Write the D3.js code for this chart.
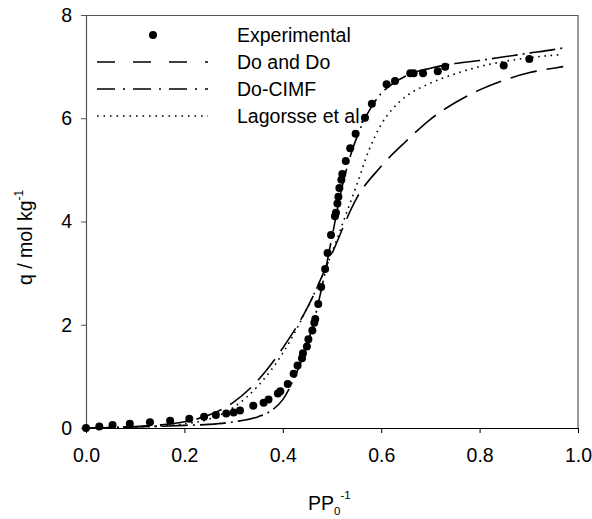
<!DOCTYPE html>
<meta charset="utf-8">
<script src="https://d3js.org/d3.v7.min.js"></script>
<style>
  body { margin: 0; background: #fff; }
  text { font-family: "Liberation Sans", Arial, sans-serif; fill: #000; }
</style>
<div id="my_dataviz"></div>
<script>

// experimental points
var expX = [0, 0.027, 0.054, 0.089, 0.130, 0.171, 0.210, 0.240, 0.264, 0.285, 0.300, 0.313,
  0.340, 0.361, 0.371, 0.390, 0.395, 0.410, 0.422, 0.430, 0.439, 0.441, 0.449, 0.452,
  0.460, 0.464, 0.466, 0.472, 0.478, 0.486, 0.491, 0.498, 0.506, 0.508, 0.511, 0.513,
  0.515, 0.519, 0.521, 0.528, 0.537, 0.548, 0.567, 0.581, 0.611, 0.628, 0.659, 0.666,
  0.685, 0.715, 0.730, 0.849, 0.901];
var expQ = [0, 0.03, 0.06, 0.08, 0.11, 0.14, 0.18, 0.22, 0.25, 0.28, 0.30, 0.34,
  0.43, 0.49, 0.55, 0.67, 0.71, 0.85, 1.05, 1.21, 1.35, 1.45, 1.58, 1.72,
  1.89, 2.04, 2.11, 2.40, 2.73, 3.08, 3.39, 3.74, 4.10, 4.17, 4.35, 4.48,
  4.65, 4.81, 4.92, 5.17, 5.42, 5.70, 6.01, 6.28, 6.66, 6.72, 6.87, 6.87,
  6.87, 6.91, 7.00, 7.02, 7.15];

// Do and Do model
var doDoX = [0, 0.05, 0.1, 0.15, 0.2, 0.25, 0.3, 0.35, 0.4, 0.45, 0.5, 0.55, 0.6, 0.65, 0.7, 0.75, 0.8, 0.85, 0.9, 0.95, 0.97];
var doDoQ = [0, 0.01, 0.03, 0.06, 0.12, 0.25, 0.5, 0.93, 1.55, 2.33, 3.38, 4.45, 5.07, 5.55, 5.98, 6.3, 6.55, 6.74, 6.88, 6.97, 7.0];

// Do-CIMF model
var cimfX = [0, 0.1, 0.2, 0.25, 0.3, 0.35, 0.38, 0.4, 0.42, 0.44, 0.46, 0.48, 0.5, 0.52, 0.54, 0.56, 0.58, 0.6, 0.625, 0.65, 0.7, 0.75, 0.8, 0.85, 0.9, 0.95, 0.975];
var cimfQ = [0, 0.02, 0.05, 0.07, 0.12, 0.22, 0.36, 0.55, 0.9, 1.35, 1.95, 2.75, 3.7, 4.65, 5.35, 5.85, 6.22, 6.48, 6.68, 6.82, 6.97, 7.06, 7.12, 7.19, 7.26, 7.33, 7.37];

// Lagorsse et al. model
var lagX = [0, 0.1, 0.2, 0.25, 0.3, 0.35, 0.4, 0.45, 0.5, 0.525, 0.55, 0.575, 0.6, 0.625, 0.65, 0.7, 0.75, 0.8, 0.85, 0.9, 0.95, 0.965];
var lagQ = [0, 0.02, 0.08, 0.17, 0.4, 0.82, 1.45, 2.33, 3.4, 4.05, 4.7, 5.38, 5.88, 6.2, 6.42, 6.68, 6.86, 7.0, 7.1, 7.17, 7.22, 7.23];

var xTicks = [0, 0.2, 0.4, 0.6, 0.8, 1.0];
var yTicks = [0, 2, 4, 6, 8];
var legendNames = ["Experimental", "Do and Do", "Do-CIMF", "Lagorsse et al."];

var margin = {top: 15, right: 14, bottom: 91, left: 86},
    width = 592 - margin.left - margin.right,
    height = 519 - margin.top - margin.bottom;

var svg = d3.select("#my_dataviz")
  .append("svg")
    .attr("width", 592)
    .attr("height", 519)
  .append("g")
    .attr("transform", "translate(" + margin.left + "," + margin.top + ")");

var x = d3.scaleLinear().domain([0, 1]).range([0, width]);
var y = d3.scaleLinear().domain([0, 8]).range([height, 0]);

// frame (top and right)
svg.append("path")
  .attr("d", "M0,0.5H" + width + "V" + height)
  .attr("fill", "none")
  .attr("stroke", "#555")
  .attr("stroke-width", 1.2);

// X axis
var xAxis = svg.append("g")
  .attr("transform", "translate(0," + height + ")")
  .call(d3.axisBottom(x).tickValues(xTicks).tickFormat(d3.format(".1f")).tickSize(5).tickSizeOuter(0));
xAxis.select(".domain").attr("stroke", "#000").attr("stroke-width", 1.2);
xAxis.selectAll(".tick line").attr("stroke", "#000");
xAxis.selectAll("text").attr("font-size", 19.5).attr("dy", 0).attr("y", 34).style("font-family", "Liberation Sans, Arial, sans-serif");

// Y axis
var yAxis = svg.append("g")
  .call(d3.axisLeft(y).tickValues(yTicks).tickFormat(d3.format("d")).tickSize(5).tickSizeOuter(0));
yAxis.select(".domain").attr("stroke", "#555").attr("stroke-width", 1.2);
yAxis.selectAll(".tick line").attr("stroke", "#555");
yAxis.selectAll("text").attr("font-size", 19.5).attr("x", -14).style("font-family", "Liberation Sans, Arial, sans-serif");

// axis titles
var xt = svg.append("text")
  .attr("x", 222)
  .attr("y", 495)
  .attr("font-size", 19.5);
xt.append("tspan").text("PP");
xt.append("tspan").attr("font-size", 11.5).attr("dy", 5).text("0");
xt.append("tspan").attr("font-size", 11.5).attr("dy", -16).text("-1");

var yt = svg.append("text")
  .attr("transform", "translate(" + (-54) + "," + 270 + ") rotate(-90)")
  .attr("font-size", 19.5);
yt.append("tspan").text("q / mol kg");
yt.append("tspan").attr("font-size", 12).attr("dy", -9).text("-1");

function pts(xs, qs) { return xs.map(function(v, i) { return [v, qs[i]]; }); }

var line = d3.line()
  .x(function(d) { return x(d[0]); })
  .y(function(d) { return y(d[1]); })
  .curve(d3.curveMonotoneX);

svg.append("path")
  .datum(pts(doDoX, doDoQ))
  .attr("fill", "none").attr("stroke", "#000").attr("stroke-width", 1.6)
  .attr("stroke-dasharray", "27,10")
  .attr("d", line);

svg.append("path")
  .datum(pts(cimfX, cimfQ))
  .attr("fill", "none").attr("stroke", "#000").attr("stroke-width", 1.6)
  .attr("stroke-dasharray", "26,5,2,5")
  .attr("d", line);

svg.append("path")
  .datum(pts(lagX, lagQ))
  .attr("fill", "none").attr("stroke", "#000").attr("stroke-width", 1.6)
  .attr("stroke-dasharray", "1.6,4.6")
  .attr("d", line);

svg.selectAll(".dot")
  .data(pts(expX, expQ))
  .enter().append("circle")
    .attr("cx", function(d) { return x(d[0]); })
    .attr("cy", function(d) { return y(d[1]); })
    .attr("r", 4)
    .attr("fill", "#000");

// legend
var legend = svg.append("g")
  .attr("transform", "translate(" + (97 - margin.left) + "," + (35 - margin.top) + ")");

var rows = legend.selectAll("g")
  .data(legendNames)
  .enter().append("g")
  .attr("transform", function(d, i) { return "translate(0," + (i * 27) + ")"; });

rows.append("text")
  .attr("x", 140)
  .attr("y", 7)
  .attr("font-size", 19.5)
  .text(function(d) { return d; });

rows.filter(function(d, i) { return i === 0; })
  .append("circle").attr("cx", 56).attr("cy", 0).attr("r", 4).attr("fill", "#000");

var legendDash = [null, "18,18", "18,8,2,8", "1.6,4.9"];
rows.filter(function(d, i) { return i > 0; })
  .append("line")
  .attr("x1", 0).attr("x2", 111)
  .attr("stroke", "#000").attr("stroke-width", 1.6)
  .attr("stroke-dasharray", function(d) { return legendDash[legendNames.indexOf(d)]; });

</script>
